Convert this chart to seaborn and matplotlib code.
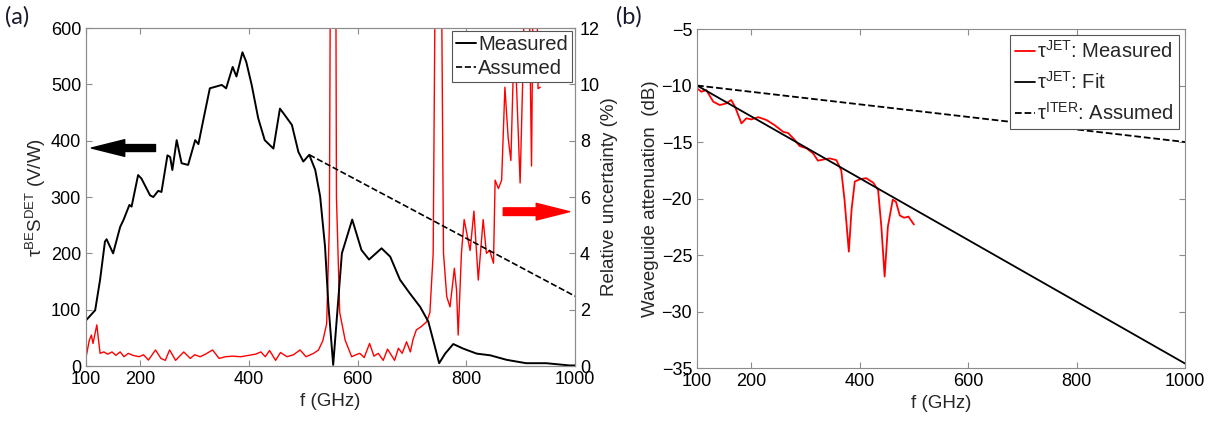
import numpy as np
import pandas as pd
import seaborn as sns
import matplotlib.pyplot as plt

# panel (a): detector responsivity, measured curve (left axis, V/W)
f_meas = [101, 117, 126, 135, 138, 150, 163, 169, 180, 184, 196, 202, 218, 224, 233, 239,
          250, 255, 259, 267, 276, 288, 301, 307, 316, 328, 350, 358, 370, 377, 388, 395,
          405, 417, 429, 445, 457, 464, 479, 491, 500, 511, 522, 531, 540, 546, 555, 571,
          590, 607, 621, 644, 660, 678, 696, 715, 730, 739, 750, 761, 776, 794, 819, 844,
          874, 910, 947, 990, 1000]
s_meas = [82, 99, 153, 221, 225, 200, 247, 259, 286, 283, 339, 333, 303, 300, 311, 309,
          374, 371, 348, 401, 360, 357, 401, 394, 437, 493, 499, 493, 531, 514, 557, 540,
          499, 440, 401, 386, 457, 448, 428, 380, 363, 375, 348, 301, 212, 111, 2, 200,
          260, 206, 189, 209, 194, 153, 129, 105, 79, 46, 5, 22, 39, 31, 22, 19,
          11, 5, 5, 1, 1]

# assumed responsivity (dashed)
f_assumed = [511, 1000]
s_assumed = [375, 124]

# relative uncertainty (right axis, %)
f_unc = [101, 106, 110, 113, 120, 126, 133, 140, 148, 155, 163, 170, 178, 186, 198, 206,
         215, 228, 238, 246, 254, 265, 280, 292, 300, 310, 320, 333, 345, 357, 370, 385,
         400, 412, 422, 430, 438, 449, 458, 470, 482, 494, 505, 519, 528, 536, 543, 548,
         551, 559, 561, 567, 577, 589, 597, 604, 612, 622, 630, 638, 647, 655, 668, 675,
         682, 690, 697, 702, 708, 717, 727, 733, 739, 745, 752, 758, 764, 770, 778, 782,
         785, 791, 796, 800, 807, 814, 822, 831, 837, 843, 850, 853, 859, 865, 871, 877,
         882, 886, 892, 899, 905, 911, 920, 926, 932, 936]
unc = [0.39, 0.9, 1.1, 0.8, 1.46, 0.45, 0.5, 0.42, 0.5, 0.38, 0.5, 0.33, 0.45, 0.38, 0.33, 0.4,
       0.21, 0.57, 0.27, 0.2, 0.57, 0.2, 0.5, 0.27, 0.4, 0.33, 0.42, 0.57, 0.27, 0.33, 0.35, 0.33,
       0.38, 0.42, 0.5, 0.33, 0.55, 0.2, 0.48, 0.33, 0.4, 0.57, 0.33, 0.45, 0.57, 0.9, 1.5, 5.0,
       20, 20, 6.0, 1.9, 0.92, 0.33, 0.4, 0.45, 0.3, 0.8, 0.35, 0.45, 0.2, 0.6, 0.2, 0.63,
       0.45, 0.86, 0.5, 0.95, 1.28, 1.4, 1.57, 1.9, 4.0, 20, 20, 4.0, 2.46, 2.1, 3.47, 2.7,
       1.1, 4.0, 5.2, 4.8, 4.1, 5.5, 3.05, 5.2, 4.0, 4.1, 3.65, 6.6, 6.3, 6.6, 9.9, 8.1,
       7.3, 10.15, 10.15, 6.5, 11.1, 20, 7.1, 20, 9.85, 9.9]

# panel (b): waveguide attenuation (dB)
f_jet = [100, 108, 117, 130, 142, 154, 163, 170, 182, 191, 200, 213, 228, 243, 259, 268,
         280, 289, 302, 314, 323, 333, 345, 357, 366, 372, 380, 385, 391, 400, 412, 425,
         434, 440, 446, 452, 461, 467, 474, 482, 490, 500]
att_jet = [-10.25, -10.55, -10.4, -11.43, -11.73, -11.58, -11.28, -11.87, -13.35, -12.9, -13.0, -12.8,
           -13.05, -13.5, -14.1, -14.2, -14.8, -15.35, -15.56, -16.0, -16.65, -16.55, -16.45, -16.6,
           -17.5, -20.1, -24.7, -21.0, -18.5, -18.3, -18.2, -18.6, -19.25, -22.5, -26.9, -22.5,
           -20.1, -20.3, -21.5, -21.7, -21.6, -22.3]
f_line = [100, 1000]
att_fit = [-10, -34.6]
att_iter = [-10, -15]

sns.set_style("ticks")
plt.rcParams["font.family"] = ["Liberation Sans", "DejaVu Sans"]
plt.rcParams["mathtext.fontset"] = "custom"
plt.rcParams["mathtext.rm"] = "Liberation Sans"
plt.rcParams["mathtext.it"] = "Liberation Sans:italic"
plt.rcParams["axes.edgecolor"] = "#8c8c8c"
plt.rcParams["xtick.color"] = "#8c8c8c"
plt.rcParams["ytick.color"] = "#8c8c8c"
plt.rcParams["xtick.labelcolor"] = "black"
plt.rcParams["ytick.labelcolor"] = "black"

fig = plt.figure(figsize=(12.19, 4.25), dpi=100)
ax1 = fig.add_axes([0.0705, 0.1388, 0.4012, 0.7952])
ax1r = ax1.twinx()
ax2 = fig.add_axes([0.5718, 0.1341, 0.4003, 0.7976])

df_unc = pd.DataFrame({"f": f_unc, "u": unc})
sns.lineplot(data=df_unc, x="f", y="u", ax=ax1r, color="red", lw=1.0, sort=False)

df_meas = pd.DataFrame({"f": f_meas, "s": s_meas})
sns.lineplot(data=df_meas, x="f", y="s", ax=ax1, color="black", lw=1.4, sort=False, label="Measured")
sns.lineplot(x=f_assumed, y=s_assumed, ax=ax1, color="black", lw=1.2, ls="--", label="Assumed")

ax1.set_xlim(100, 1000)
ax1.set_ylim(0, 600)
ax1r.set_ylim(0, 12)
ax1.set_xticks([100, 200, 400, 600, 800, 1000])
ax1.set_yticks(range(0, 601, 100))
ax1r.set_yticks(range(0, 13, 2))
ax1.tick_params(direction="in", labelsize=13, top=True, length=4)
ax1r.tick_params(direction="in", labelsize=13, length=4)
ax1.set_xlabel("f (GHz)", fontsize=13.5)
ax1.set_ylabel(r"τ$^{\mathrm{BE}}$S$^{\mathrm{DET}}$ (V/W)", fontsize=13.5, labelpad=2)
ax1r.set_ylabel("Relative uncertainty (%)", fontsize=13.5, labelpad=1)
ax1r.set_xlabel("")
ax1.set_zorder(ax1r.get_zorder() + 1)
ax1.patch.set_visible(False)

leg1 = ax1.legend(loc="upper right", fontsize=14.5, handlelength=1.0, handletextpad=0.1,
                  borderpad=0.2, labelspacing=0.25, borderaxespad=0.15, fancybox=False,
                  edgecolor="#555555", framealpha=1)
leg1.get_frame().set_linewidth(0.8)

# direction arrows
ax1.annotate("", xy=(110, 387), xytext=(228, 387),
             arrowprops=dict(arrowstyle="simple,head_length=24,head_width=12,tail_width=5",
                             mutation_scale=1, color="black", shrinkA=0, shrinkB=0))
ax1.annotate("", xy=(990, 274), xytext=(868, 274),
             arrowprops=dict(arrowstyle="simple,head_length=24,head_width=12,tail_width=5.5",
                             mutation_scale=1, color="red", shrinkA=0, shrinkB=0))

df_jet = pd.DataFrame({"f": f_jet, "a": att_jet})
sns.lineplot(data=df_jet, x="f", y="a", ax=ax2, color="red", lw=1.3, sort=False,
             label=r"τ$^{\mathrm{JET}}$: Measured")
sns.lineplot(x=f_line, y=att_fit, ax=ax2, color="black", lw=1.3, label=r"τ$^{\mathrm{JET}}$: Fit")
sns.lineplot(x=f_line, y=att_iter, ax=ax2, color="black", lw=1.3, ls="--",
             label=r"τ$^{\mathrm{ITER}}$: Assumed")
ax2.set_xlim(100, 1000)
ax2.set_ylim(-35, -5)
ax2.set_xticks([100, 200, 400, 600, 800, 1000])
ax2.set_yticks(range(-35, -4, 5))
ax2.tick_params(direction="in", labelsize=13, top=True, right=True, length=4)
ax2.set_xlabel("f (GHz)", fontsize=13.5)
ax2.set_ylabel("Waveguide attenuation  (dB)", fontsize=13.5, labelpad=2)
leg2 = ax2.legend(loc="upper right", fontsize=14.5, handlelength=1.0, handletextpad=0.1,
                  borderpad=0.25, labelspacing=0.45, borderaxespad=0.3, fancybox=False,
                  edgecolor="#555555", framealpha=1)
leg2.get_frame().set_linewidth(0.8)

fig.text(0.004, 0.985, "(a)", fontsize=17, va="top", ha="left", color="#1a1a2e",
         family=["Lato", "DejaVu Sans"])
fig.text(0.505, 0.985, "(b)", fontsize=17, va="top", ha="left", color="#1a1a2e",
         family=["Lato", "DejaVu Sans"])

fig.savefig("out.png", dpi=100)
